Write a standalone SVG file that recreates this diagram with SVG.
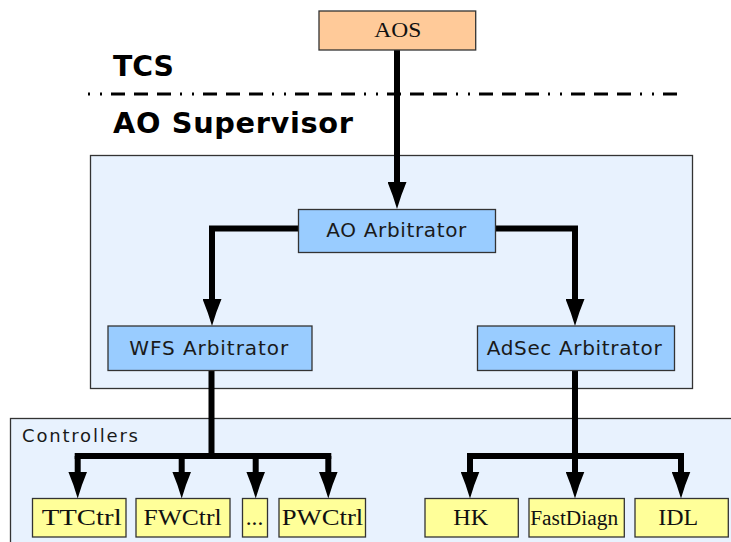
<svg xmlns="http://www.w3.org/2000/svg" width="731" height="542" viewBox="0 0 731 542">
  <style>
    .sans { font-family: "DejaVu Sans", Verdana, sans-serif; fill: #1a1a1a; }
    .serif { font-family: "Liberation Serif", "Times New Roman", serif; fill: #111; }
    .title { font-family: "DejaVu Sans", Verdana, sans-serif; font-weight: bold; font-size: 28.8px; fill: #000; }
    .group { fill: #e8f2fe; stroke: #333; stroke-width: 1.3; }
    .arb { fill: #99ccff; stroke: #333; stroke-width: 1.3; }
    .ctrl { fill: #ffff99; stroke: #333; stroke-width: 1.3; }
    .ext { fill: #ffca99; stroke: #333; stroke-width: 1.3; }
    .wire { fill: none; stroke: #000; stroke-width: 6; stroke-linejoin: miter; }
    .bar { fill: none; stroke: #000; stroke-width: 6; stroke-linecap: square; }
    .sep { stroke: #000; stroke-width: 3; stroke-dasharray: 14 9 14 9 14 9 2 10 2 9; stroke-dashoffset: 69; }
  </style>
  <defs>
    <marker id="ah" markerUnits="userSpaceOnUse" markerWidth="27" markerHeight="19" viewBox="0 0 27 19" refX="1" refY="9.5" orient="auto">
      <path d="M0,0 Q13,5.5 27,9.5 Q13,13.5 0,19 Z" fill="#000"/>
    </marker>
  </defs>

  <!-- layer labels and separator -->
  <text class="title" x="113" y="76" textLength="61" lengthAdjust="spacingAndGlyphs">TCS</text>
  <line class="sep" x1="88" y1="94" x2="678" y2="94"/>
  <text class="title" x="113" y="132.7" textLength="240" lengthAdjust="spacing">AO Supervisor</text>

  <!-- containers -->
  <g id="supervisor">
    <rect class="group" x="90.5" y="155.5" width="602" height="233"/>
  </g>
  <g id="controllers">
    <rect class="group" x="10.5" y="418.5" width="730" height="140"/>
    <text class="sans" x="22" y="441.7" font-size="18" fill="#333" textLength="116" lengthAdjust="spacing">Controllers</text>
  </g>

  <!-- connectors -->
  <g id="connectors">
    <path class="wire" d="M397,50 V183" marker-end="url(#ah)"/>
    <path class="wire" d="M298.5,228.5 H212 V300" marker-end="url(#ah)"/>
    <path class="wire" d="M495.5,228.5 H575 V300" marker-end="url(#ah)"/>
    <!-- WFS branch -->
    <path class="wire" d="M211.5,370.5 V456"/>
    <path class="bar" d="M77.7,456 H328.3"/>
    <path class="wire" d="M77.7,456 V472.5" marker-end="url(#ah)"/>
    <path class="wire" d="M181.7,456 V472.5" marker-end="url(#ah)"/>
    <path class="wire" d="M255.7,456 V472.5" marker-end="url(#ah)"/>
    <path class="wire" d="M328.3,456 V472.5" marker-end="url(#ah)"/>
    <!-- AdSec branch -->
    <path class="wire" d="M575,370.5 V456"/>
    <path class="bar" d="M470,456 H681"/>
    <path class="wire" d="M470,456 V472.5" marker-end="url(#ah)"/>
    <path class="wire" d="M575,456 V472.5" marker-end="url(#ah)"/>
    <path class="wire" d="M681,456 V472.5" marker-end="url(#ah)"/>
  </g>

  <!-- nodes -->
  <g id="aos">
    <rect class="ext" x="319" y="11" width="156.7" height="39"/>
    <text class="serif" x="397.8" y="36.7" font-size="21" text-anchor="middle" textLength="47" lengthAdjust="spacingAndGlyphs">AOS</text>
  </g>
  <g id="ao-arbitrator">
    <rect class="arb" x="298.5" y="209.5" width="197" height="43"/>
    <text class="sans" x="396.3" y="237.3" font-size="20" text-anchor="middle" textLength="140" lengthAdjust="spacing">AO Arbitrator</text>
  </g>
  <g id="wfs-arbitrator">
    <rect class="arb" x="108" y="326" width="204" height="44.5"/>
    <text class="sans" x="208.7" y="355" font-size="20" text-anchor="middle" textLength="159" lengthAdjust="spacing">WFS Arbitrator</text>
  </g>
  <g id="adsec-arbitrator">
    <rect class="arb" x="477.5" y="326" width="197" height="44.5"/>
    <text class="sans" x="574.2" y="355" font-size="20" text-anchor="middle" textLength="175" lengthAdjust="spacing">AdSec Arbitrator</text>
  </g>

  <g id="ttctrl">
    <rect class="ctrl" x="32.5" y="498.5" width="93.5" height="38.5"/>
    <text class="serif" x="81.7" y="525" font-size="22.5" text-anchor="middle" textLength="80" lengthAdjust="spacingAndGlyphs">TTCtrl</text>
  </g>
  <g id="fwctrl">
    <rect class="ctrl" x="136" y="498.5" width="94" height="38.5"/>
    <text class="serif" x="182.5" y="525" font-size="22.5" text-anchor="middle" textLength="78" lengthAdjust="spacingAndGlyphs">FWCtrl</text>
  </g>
  <g id="more">
    <rect class="ctrl" x="242.5" y="498.5" width="25" height="38.5"/>
    <text class="serif" x="254.5" y="525" font-size="22.5" text-anchor="middle" textLength="17.6" lengthAdjust="spacingAndGlyphs">...</text>
  </g>
  <g id="pwctrl">
    <rect class="ctrl" x="279" y="498.5" width="86.5" height="38.5"/>
    <text class="serif" x="322.5" y="525" font-size="22.5" text-anchor="middle" textLength="81.6" lengthAdjust="spacingAndGlyphs">PWCtrl</text>
  </g>
  <g id="hk">
    <rect class="ctrl" x="425" y="498.5" width="93.3" height="38.5"/>
    <text class="serif" x="470.8" y="525" font-size="22.5" text-anchor="middle" textLength="35" lengthAdjust="spacingAndGlyphs">HK</text>
  </g>
  <g id="fastdiagn">
    <rect class="ctrl" x="529" y="498.5" width="95.3" height="38.5"/>
    <text class="serif" x="574.2" y="525" font-size="20" text-anchor="middle" textLength="88" lengthAdjust="spacingAndGlyphs">FastDiagn</text>
  </g>
  <g id="idl">
    <rect class="ctrl" x="635" y="498.5" width="93.3" height="38.5"/>
    <text class="serif" x="678.3" y="525" font-size="22.5" text-anchor="middle" textLength="40" lengthAdjust="spacingAndGlyphs">IDL</text>
  </g>
</svg>
